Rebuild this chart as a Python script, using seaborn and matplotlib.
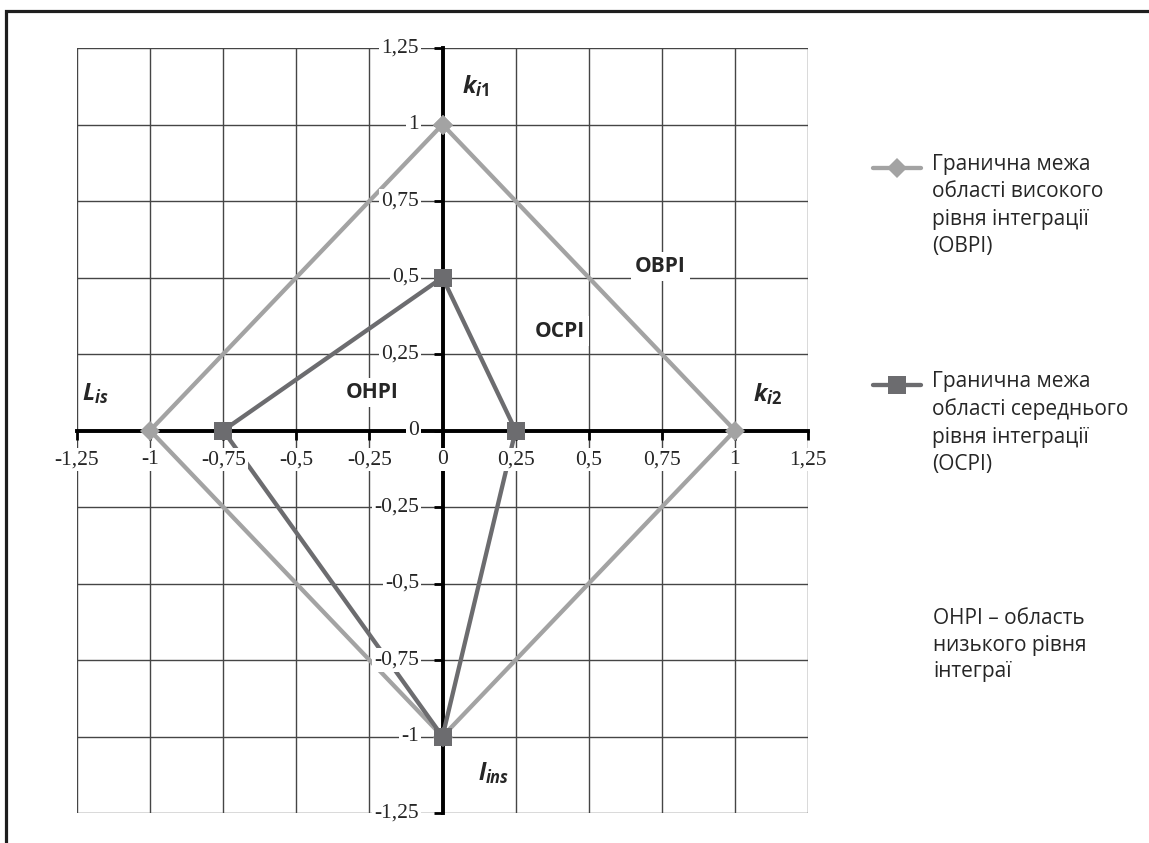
import matplotlib
matplotlib.use("Agg")
import numpy as np
import matplotlib.pyplot as plt
import seaborn as sns
import pandas as pd
from matplotlib.patches import Rectangle
from matplotlib.legend_handler import HandlerLine2D

# ---- data ----
high_x = [0, 1, 0, -1, 0]
high_y = [1, 0, -1, 0, 1]
mid_x = [0, 0.25, 0, -0.75, 0]
mid_y = [0.5, 0, -1, 0, 0.5]
tick_values = [-1.25, -1, -0.75, -0.5, -0.25, 0, 0.25, 0.5, 0.75, 1, 1.25]
tick_labels = ["-1,25", "-1", "-0,75", "-0,5", "-0,25", "0", "0,25", "0,5", "0,75", "1", "1,25"]
series_labels = ["Гранична межа\nобласті високого\nрівня інтеграції\n(ОВРІ)",
                 "Гранична межа\nобласті середнього\nрівня інтеграції\n(ОСРІ)"]
region_labels = ["ОВРІ", "ОСРІ", "ОНРІ"]
region_pos = [(0.745, 0.535), (0.40, 0.325), (-0.24, 0.125)]
note_text = "ОНРІ – область\nнизького рівня\nінтеграї"

sns.set_theme(style="white")
plt.rcParams["font.family"] = ["Open Sans", "DejaVu Sans"]
plt.rcParams["mathtext.fontset"] = "custom"
plt.rcParams["mathtext.it"] = "Open Sans:italic:bold"
plt.rcParams["mathtext.rm"] = "Open Sans:bold"
plt.rcParams["mathtext.bf"] = "Open Sans:bold"

fig = plt.figure(figsize=(11.49, 8.43), dpi=100)
ax = fig.add_axes([77 / 1149, 1 - 813 / 843, (808 - 77) / 1149, (813 - 48) / 843])

light = "#a3a3a3"
dark = "#6c6c6f"

df_high = pd.DataFrame({"x": high_x, "y": high_y})
df_mid = pd.DataFrame({"x": mid_x, "y": mid_y})
sns.lineplot(data=df_high, x="x", y="y", sort=False, estimator=None, ax=ax,
             color=light, lw=3.1, marker="D", markersize=10, markeredgecolor=light,
             markeredgewidth=0, label=series_labels[0], zorder=3)
sns.lineplot(data=df_mid, x="x", y="y", sort=False, estimator=None, ax=ax,
             color=dark, lw=3.1, marker="s", markersize=13, markeredgecolor=dark,
             markeredgewidth=0, label=series_labels[1], zorder=3.1)

ax.set_xlim(-1.25, 1.25)
ax.set_ylim(-1.25, 1.25)
ax.set_xticks(tick_values)
ax.set_yticks(tick_values)
ax.set_xlabel("")
ax.set_ylabel("")
ax.tick_params(labelbottom=False, labelleft=False, direction="out", length=6.5,
               width=2, color="black", bottom=True, left=True)
ax.grid(True, color="#454545", lw=1.0)
ax.set_axisbelow(True)
for s in ["top", "right"]:
    ax.spines[s].set_visible(False)
ax.spines["left"].set_position(("data", 0))
ax.spines["bottom"].set_position(("data", 0))
for s in ["left", "bottom"]:
    ax.spines[s].set_color("black")
    ax.spines[s].set_linewidth(2.8)
    ax.spines[s].set_zorder(2.5)

box = dict(facecolor="white", edgecolor="none", pad=1.5)
serif = ["Liberation Serif", "DejaVu Serif"]
for v, t in zip(tick_values, tick_labels):
    ax.annotate(t, xy=(v, 0), xytext=(0, -21), textcoords="offset points",
                ha="center", va="center", fontsize=15.5, family=serif, bbox=box, zorder=5)
    ax.annotate(t, xy=(0, v), xytext=(-17, 0), textcoords="offset points",
                ha="right", va="center", fontsize=15.5, family=serif, bbox=box, zorder=5)

for t, (x, y) in zip(region_labels, region_pos):
    ax.text(x, y, t, ha="center", va="center", fontsize=15, fontweight="bold",
            bbox=dict(facecolor="white", edgecolor="none", pad=3), zorder=5)

ax.text(0.065, 1.125, r"$k_{i1}$", fontsize=17, ha="left", va="center", zorder=5)
ax.text(1.062, 0.12, r"$k_{i2}$", fontsize=17, ha="left", va="center", zorder=5)
ax.text(-1.233, 0.12, r"$L_{is}$", fontsize=17, ha="left", va="center", zorder=5)
ax.text(0.12, -1.12, r"$l_{ins}$", fontsize=17, ha="left", va="center", zorder=5)


class TopAlignedLine(HandlerLine2D):
    """Put the legend sample level with the first line of a multi-line label."""
    def __init__(self, dy, **kw):
        super().__init__(**kw)
        self.dy = dy

    def create_artists(self, legend, orig_handle, xdescent, ydescent, width,
                       height, fontsize, trans):
        arts = super().create_artists(legend, orig_handle, xdescent, ydescent,
                                      width, height, fontsize, trans)
        for a in arts:
            a.set_ydata(np.asarray(a.get_ydata(), dtype=float) + self.dy)
        return arts


leg_fs = 15
leg_ls = 1.4
handles, labels = ax.get_legend_handles_labels()
shift = 27.5
leg = ax.legend(handles, labels, loc="upper left",
                bbox_to_anchor=(873 / 1149, 1 - 154 / 843),
                bbox_transform=fig.transFigure, frameon=False, fontsize=leg_fs,
                handlelength=2.3, handletextpad=0.55, labelspacing=5.45,
                borderpad=0, borderaxespad=0,
                handler_map={h: TopAlignedLine(shift) for h in handles})
for txt in leg.get_texts():
    txt.set_linespacing(leg_ls)

fig.text(933 / 1149, 1 - 608 / 843, note_text, fontsize=leg_fs, ha="left", va="top",
         linespacing=1.35)

fig.add_artist(Rectangle((6 / 1149, -0.2), 1.3, 1.2 - 11 / 843,
                         transform=fig.transFigure, fill=False,
                         edgecolor="#1e1e1e", lw=2.3))

fig.savefig("out.png", dpi=100, facecolor="white")
